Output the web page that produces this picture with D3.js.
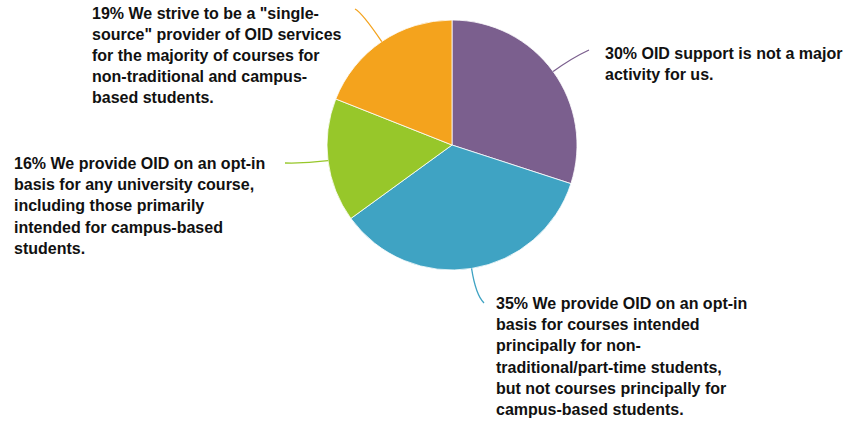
<!DOCTYPE html>
<html>
<head>
<meta charset="utf-8">
<script src="https://cdn.jsdelivr.net/npm/d3@7"></script>
<style>
  html, body { margin: 0; padding: 0; background: #fff; }
  svg { display: block; }
  text { font-family: "Liberation Sans", Arial, Helvetica, sans-serif; font-weight: bold; font-size: 16px; fill: #111; }
</style>
</head>
<body>
<svg id="chart" width="849" height="423"></svg>
<script>
// ---- data ----
const categories = [
  "OID support is not a major activity for us.",
  "We provide OID on an opt-in basis for courses intended principally for non-traditional/part-time students, but not courses principally for campus-based students.",
  "We provide OID on an opt-in basis for any university course, including those primarily intended for campus-based students.",
  "We strive to be a \"single-source\" provider of OID services for the majority of courses for non-traditional and campus-based students."
];
const values = [30, 35, 16, 19];
const colors = ["#7B5F8E", "#3FA3C3", "#97C72A", "#F4A31D"];
const labelLines = [
  ["30% OID support is not a major", "activity for us."],
  ["35% We provide OID on an opt-in", "basis for courses intended", "principally for non-", "traditional/part-time students,", "but not courses principally for", "campus-based students."],
  ["16% We provide OID on an opt-in", "basis for any university course,", "including those primarily", "intended for campus-based", "students."],
  ["19% We strive to be a \"single-", "source\" provider of OID services", "for the majority of courses for", "non-traditional and campus-", "based students."]
];

// ---- layout ----
const W = 849, H = 423;
const cx = 452, cy = 145, R = 125;
const lineH = 21.2;
// label placement per slice: leader end point, text anchor (x, first baseline)
const labelLayout = [
  { end: [589, 50], ctrlR: 148, tx: 605, ty: 59 },
  { end: [484, 303], ctrlR: 152, tx: 496, ty: 309 },
  { end: [285, 163], ctrlR: 148, tx: 14, ty: 169 },
  { end: [355, 9], ctrlR: 160, tx: 92, ty: 18.5 }
];

const svg = d3.select("#chart");
const g = svg.append("g").attr("transform", `translate(${cx},${cy})`);

const pie = d3.pie().value(d => d).sort(null);
const arcs = pie(values);
const arc = d3.arc().innerRadius(0).outerRadius(R);

g.selectAll("path.slice")
  .data(arcs)
  .join("path")
  .attr("class", "slice")
  .attr("d", arc)
  .attr("fill", (d, i) => colors[i])
  .attr("stroke", "#fff")
  .attr("stroke-width", 0.8);

// leader lines
arcs.forEach((d, i) => {
  const a = (d.startAngle + d.endAngle) / 2;
  const L = labelLayout[i];
  const sx = cx + R * Math.sin(a), sy = cy - R * Math.cos(a);
  const qx = cx + L.ctrlR * Math.sin(a), qy = cy - L.ctrlR * Math.cos(a);
  const p = d3.path();
  p.moveTo(sx, sy);
  p.quadraticCurveTo(qx, qy, L.end[0], L.end[1]);
  svg.append("path")
    .attr("d", p.toString())
    .attr("fill", "none")
    .attr("stroke", colors[i])
    .attr("stroke-width", 1.3);
});

// labels
labelLines.forEach((lines, i) => {
  const L = labelLayout[i];
  const t = svg.append("text").attr("x", L.tx).attr("y", L.ty);
  lines.forEach((ln, k) => {
    t.append("tspan").attr("x", L.tx).attr("y", L.ty + k * lineH).text(ln);
  });
});
</script>
</body>
</html>
